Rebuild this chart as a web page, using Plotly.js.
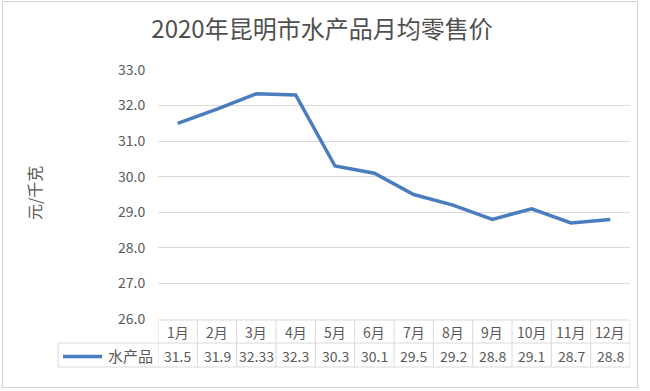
<!DOCTYPE html>
<html>
<head>
<meta charset="utf-8">
<script src="https://cdn.plot.ly/plotly-3.0.1.min.js"></script>
<style>
  html, body { margin: 0; padding: 0; background: #ffffff; }
  #wrap { position: relative; width: 650px; height: 391px; overflow: hidden; }
  #chart { position: absolute; left: 0; top: 0; width: 650px; height: 391px; }
  #frame { position: absolute; left: 2px; top: 1px; width: 634px; height: 385px; border: 1px solid #d4d4d4; pointer-events: none; }
</style>
</head>
<body>
<div id="wrap">
  <div id="chart"></div>
  <div id="frame"></div>
</div>
<script>
const months = ["1月","2月","3月","4月","5月","6月","7月","8月","9月","10月","11月","12月"];
const values = [31.5, 31.9, 32.33, 32.3, 30.3, 30.1, 29.5, 29.2, 28.8, 29.1, 28.7, 28.8];
const seriesName = "水产品";
const titleText = "2020年昆明市水产品月均零售价";
const yTitle = "元/千克";

const W = 650, H = 391;
const mL = 158, mR = 20, mT = 70, mB = 72;
const plotW = W - mL - mR, plotH = H - mT - mB;
const px2paperX = p => (p - mL) / plotW;
const py2paperY = p => (H - mB - p) / plotH;

const lineColor = "#4a7dbe";
const gridColor = "#d9d9d9";
const textColor = "#595959";
const font = "'Noto Sans CJK SC', 'Noto Sans', sans-serif";

const trace = {
  type: "scatter",
  mode: "lines",
  x: months,
  y: values,
  name: seriesName,
  line: { color: lineColor, width: 3.5 },
  hoverinfo: "skip"
};

const rowTop = py2paperY(320), rowMid = py2paperY(343), rowBot = py2paperY(367);
const legLeft = px2paperX(58);

const shapes = [];
const lineStyle = { color: gridColor, width: 1 };
shapes.push({ type: "line", xref: "paper", yref: "paper", x0: 0, x1: 1, y0: rowTop, y1: rowTop, line: lineStyle });
shapes.push({ type: "line", xref: "paper", yref: "paper", x0: legLeft, x1: 1, y0: rowMid, y1: rowMid, line: lineStyle });
shapes.push({ type: "line", xref: "paper", yref: "paper", x0: legLeft, x1: 1, y0: rowBot, y1: rowBot, line: lineStyle });
for (let i = 0; i <= months.length; i++) {
  shapes.push({ type: "line", xref: "x", yref: "paper", x0: i - 0.5, x1: i - 0.5, y0: rowTop, y1: rowBot, line: lineStyle });
}
shapes.push({ type: "line", xref: "paper", yref: "paper", x0: legLeft, x1: legLeft, y0: rowMid, y1: rowBot, line: lineStyle });
const legY = py2paperY(356.5);
shapes.push({ type: "line", xref: "paper", yref: "paper", x0: px2paperX(63), x1: px2paperX(102), y0: legY, y1: legY, line: { color: lineColor, width: 3.5 } });

const annotations = [];
months.forEach((m, i) => {
  annotations.push({ xref: "x", yref: "paper", x: i, y: py2paperY(331.5), text: m, showarrow: false,
    font: { family: font, size: 14, color: textColor }, xanchor: "center", yanchor: "middle" });
  annotations.push({ xref: "x", yref: "paper", x: i, y: py2paperY(355.5), text: String(values[i]), showarrow: false,
    font: { family: font, size: 14, color: textColor }, xanchor: "center", yanchor: "middle" });
});
annotations.push({ xref: "paper", yref: "paper", x: px2paperX(130), y: py2paperY(355.5), text: seriesName, showarrow: false,
  font: { family: font, size: 15, color: textColor }, xanchor: "center", yanchor: "middle" });
annotations.push({ xref: "paper", yref: "paper", x: px2paperX(34), y: py2paperY(193), text: yTitle, showarrow: false,
  textangle: -90, font: { family: font, size: 16, color: textColor }, xanchor: "center", yanchor: "middle" });

const layout = {
  width: W, height: H,
  margin: { l: mL, r: mR, t: mT, b: mB, pad: 0 },
  paper_bgcolor: "rgba(0,0,0,0)",
  plot_bgcolor: "rgba(0,0,0,0)",
  showlegend: false,
  title: { text: titleText, x: 322 / W, xanchor: "center", y: 1 - 30 / H, yanchor: "middle",
    font: { family: font, size: 24, color: "#505050" } },
  xaxis: { type: "category", range: [-0.5, months.length - 0.5], showticklabels: false, showgrid: false,
    zeroline: false, showline: false, ticks: "", fixedrange: true },
  yaxis: { range: [26, 33], dtick: 1, tick0: 26, tickformat: ".1f", showgrid: true, gridcolor: gridColor, gridwidth: 1,
    zeroline: false, showline: false, ticks: "outside", ticklen: 9, tickcolor: "rgba(0,0,0,0)",
    tickfont: { family: font, size: 14, color: textColor }, fixedrange: true },
  shapes: shapes,
  annotations: annotations
};

Plotly.newPlot("chart", [trace], layout, { displayModeBar: false, staticPlot: true });
</script>
</body>
</html>
